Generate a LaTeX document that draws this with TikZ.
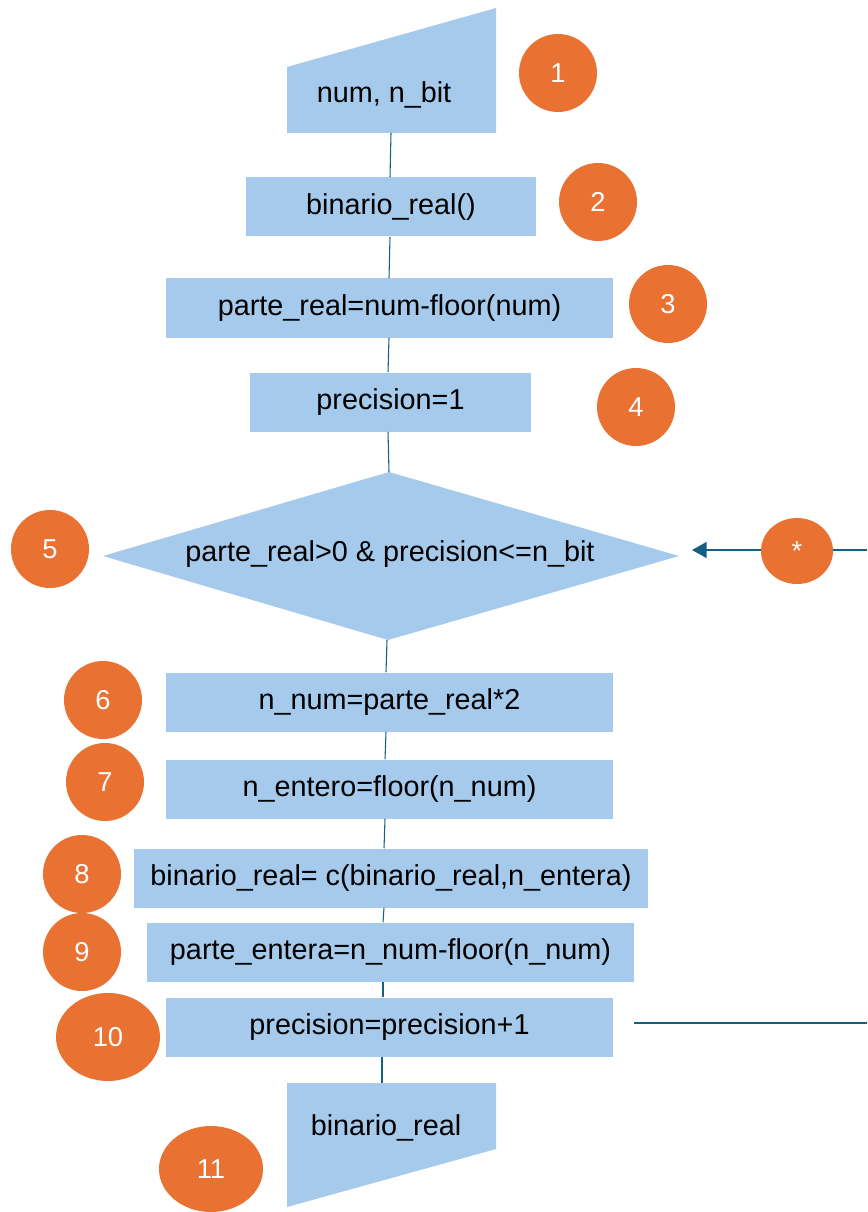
\documentclass[tikz,border=0pt]{standalone}
\usepackage{fontspec}
\setmainfont{Liberation Sans}
\usetikzlibrary{arrows.meta,shapes.geometric}
\definecolor{boxblue}{HTML}{A6CAEC}
\definecolor{numorange}{HTML}{E97132}
\definecolor{linkblue}{HTML}{156082}
\def\pxu{0.75pt}
\tikzset{
  box/.style={fill=boxblue, draw=none, minimum height=59*\pxu, inner sep=0pt,
    font=\fontsize{21.6}{25}\selectfont, text=black},
  lbl/.style={inner sep=0pt, font=\fontsize{21.6}{25}\selectfont, text=black},
  num/.style={circle, fill=numorange, minimum size=78*\pxu, inner sep=0pt,
    text=white, font=\fontsize{20.5}{24}\selectfont},
  numell/.style={ellipse, fill=numorange, inner sep=0pt,
    text=white, font=\fontsize{20.5}{24}\selectfont},
  conn/.style={draw=linkblue, line width=0.8pt},
  flow/.style={draw=linkblue, line width=1.1pt},
}
\begin{document}
\begin{tikzpicture}[x=0.75pt,y=-0.75pt]
\useasboundingbox (0,0) rectangle (867,1212);

% input shape
\coordinate (inTL) at (287,67);
\coordinate (inTR) at (496,8);
\coordinate (inBR) at (496,133);
\coordinate (inBL) at (287,133);
\coordinate (inB) at (391,133);
\fill[boxblue] (inTL) -- (inTR) -- (inBR) -- (inBL) -- cycle;
\node[lbl] (in) at (384,95) {num, n\_bit};

% process boxes
\node[box, minimum width=290*\pxu] (r2) at (391,207) {binario\_real()};
\node[box, minimum width=447*\pxu] (r3) at (389.5,308) {parte\_real=num-floor(num)};
\node[box, minimum width=281*\pxu] (r4) at (390.5,402) {precision=1};

% decision
\coordinate (dT) at (389,472);
\coordinate (dR) at (679,556);
\coordinate (dB) at (388,640);
\coordinate (dL) at (103,556);
\fill[boxblue] (dT) -- (dR) -- (dB) -- (dL) -- cycle;
\node[lbl] (cond) at (390,554) {parte\_real>0 \& precision<=n\_bit};

\node[box, minimum width=447*\pxu] (r6) at (389.5,702) {n\_num=parte\_real*2};
\node[box, minimum width=447*\pxu] (r7) at (389.5,789) {n\_entero=floor(n\_num)};
\node[box, minimum width=514*\pxu] (r8) at (391,878) {binario\_real= c(binario\_real,n\_entera)};
\node[box, minimum width=487*\pxu] (r9) at (390.5,952) {parte\_entera=n\_num-floor(n\_num)};
\node[box, minimum width=447*\pxu] (r10) at (389.5,1027) {precision=precision+1};

% output shape
\coordinate (outTL) at (287,1083);
\coordinate (outTR) at (496,1083);
\coordinate (outBR) at (496,1149);
\coordinate (outBL) at (287,1207);
\coordinate (outT) at (382,1083);
\fill[boxblue] (outTL) -- (outTR) -- (outBR) -- (outBL) -- cycle;
\node[lbl] (out) at (386,1128) {binario\_real};

% connectors
\draw[conn] (inB) -- ([xshift=-1*\pxu]r2.north);
\draw[conn] ([xshift=-1*\pxu]r2.south) -- ([xshift=-0.5*\pxu]r3.north);
\draw[conn] ([xshift=-0.5*\pxu]r3.south) -- ([xshift=-2.5*\pxu]r4.north);
\draw[conn] ([xshift=-2.5*\pxu]r4.south) -- (dT);
\draw[conn] ([xshift=-1*\pxu]dB) -- ([xshift=-3.5*\pxu]r6.north);
\draw[conn] ([xshift=-3.5*\pxu]r6.south) -- ([xshift=-4.5*\pxu]r7.north);
\draw[conn] ([xshift=-4.5*\pxu]r7.south) -- ([xshift=-7*\pxu]r8.north);
\draw[conn] ([xshift=-7*\pxu]r8.south) -- ([xshift=-7.5*\pxu]r9.north);
\draw[conn] ([xshift=-7.5*\pxu]r9.south) -- ([xshift=-6.5*\pxu]r10.north);
\draw[conn] ([xshift=-7.5*\pxu]r10.south) -- (outT);

% loop-back lines
\coordinate (fbR) at (867,550);
\coordinate (fbEnd) at (692,550);
\draw[flow, -{Triangle[length=11pt,width=12pt]}] (fbR) -- (fbEnd);
\node[numell, minimum width=72*\pxu, minimum height=66*\pxu] (star) at (797,551) {*};
\coordinate (lpL) at (634,1023);
\coordinate (lpR) at (867,1023);
\draw[flow] (lpL) -- (lpR);

% step numbers
\node[num] (n1) at (558,73) {1};
\node[num] (n2) at (598,202) {2};
\node[num] (n3) at (668,304) {3};
\node[num] (n4) at (636,407) {4};
\node[num] (n5) at (50,549) {5};
\node[num] (n6) at (103,700) {6};
\node[num] (n7) at (105,782) {7};
\node[num] (n8) at (82,874) {8};
\node[num] (n9) at (82,952) {9};
\node[numell, minimum width=104*\pxu, minimum height=88*\pxu] (n10) at (108,1037) {10};
\node[numell, minimum width=104*\pxu, minimum height=86*\pxu] (n11) at (211,1169) {11};
\end{tikzpicture}
\end{document}
